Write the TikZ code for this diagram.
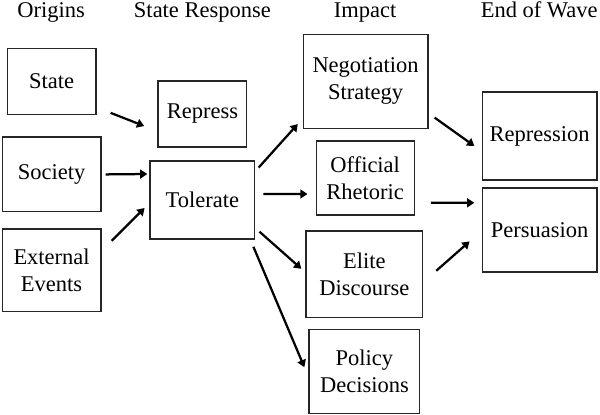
\documentclass[tikz,border=0pt]{standalone}
\usepackage{fontspec}
\setmainfont{Liberation Serif}
\usetikzlibrary{arrows.meta,calc}

\begin{document}
\begin{tikzpicture}[
 box/.style={draw=black!85,line width=0.9pt,align=center,inner sep=0pt,font=\fontsize{16}{19.2}\selectfont},
 head/.style={anchor=base,inner sep=0pt,font=\fontsize{16}{19.2}\selectfont},
 a/.style={-{Triangle[length=1.8mm,width=2.2mm]},line width=1.6pt}]
\useasboundingbox (0,0) rectangle (15,-10.35);

% column heads
\node[head] (h1) at (1.28,-0.425) {Origins};
\node[head] (h2) at (5.06,-0.425) {State Response};
\node[head] (h3) at (9.13,-0.425) {Impact};
\node[head] (h4) at (13.48,-0.425) {End of Wave};

% origins
\node[box,minimum width=2.22cm,minimum height=1.65cm] (state) at (1.29,-2.03) {State};
\node[box,minimum width=2.47cm,minimum height=1.87cm] (society) at (1.29,-4.36) {Society};
\node[box,minimum width=2.47cm,minimum height=2.07cm] (external) at (1.29,-6.76) {External\\Events};

% state response
\node[box,minimum width=2.22cm,minimum height=1.65cm] (repress) at (5.06,-2.85) {Repress};
\node[box,minimum width=2.62cm,minimum height=1.95cm] (tolerate) at (5.06,-5.0) {Tolerate};

% impact
\node[box,minimum width=3.12cm,minimum height=2.35cm] (negot) at (9.14,-2.03) {Negotiation\\Strategy};
\node[box,minimum width=2.45cm,minimum height=1.85cm] (official) at (9.13,-4.45) {Official\\Rhetoric};
\node[box,minimum width=2.92cm,minimum height=2.17cm] (elite) at (9.11,-6.86) {Elite\\Discourse};
\node[box,minimum width=2.77cm,minimum height=2.10cm] (policy) at (9.11,-9.28) {Policy\\Decisions};

% end of wave
\node[box,minimum width=2.87cm,minimum height=2.20cm] (repression) at (13.49,-3.4) {Repression};
\node[box,minimum width=2.87cm,minimum height=2.10cm] (persuasion) at (13.49,-5.75) {Persuasion};

% arrows
\draw[a] ($(state.south east)+(0.35,0.05)$) -- ($(repress.west)+(-0.33,-0.3)$);
\draw[a] ($(society.east)+(0.1,0)$) -- ($(tolerate.west)+(-0.05,0.65)$);
\draw[a] ($(external.east)+(0.25,0.74)$) -- ($(tolerate.west)+(-0.12,-0.2)$);
\draw[a] ($(tolerate.north east)+(0.08,-0.18)$) -- ($(negot.south west)+(-0.12,0.12)$);
\draw[a] ($(tolerate.east)+(0.2,0.15)$) -- ($(official.west)+(-0.2,-0.4)$);
\draw[a] ($(tolerate.south east)+(0.1,0.2)$) -- ($(elite.west)+(-0.1,0.14)$);
\draw[a] ($(tolerate.south east)+(-0.05,-0.18)$) -- ($(policy.west)+(-0.1,0.1)$);
\draw[a] ($(negot.south east)+(0.15,0.28)$) -- ($(repression.west)+(-0.18,-0.25)$);
\draw[a] ($(official.east)+(0.4,-0.62)$) -- ($(persuasion.west)+(-0.18,0.68)$);
\draw[a] ($(elite.east)+(0.32,0.09)$) -- ($(persuasion.south west)+(-0.3,0.78)$);
\end{tikzpicture}
\end{document}
